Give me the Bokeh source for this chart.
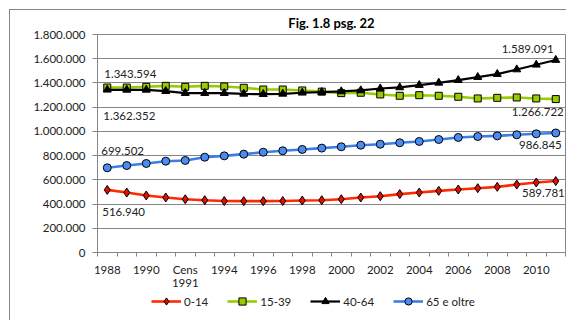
from bokeh.plotting import figure
from bokeh.layouts import column
from bokeh.models import (Range1d, FixedTicker, CustomJSTickFormatter, Legend, LegendItem,
                          Label)
from bokeh.embed import file_html
from bokeh.resources import INLINE

title_text = "Fig. 1.8 psg. 22"
categories = ["1988", "1989", "1990", "1991", "Cens 1991", "1993", "1994", "1995", "1996",
              "1997", "1998", "1999", "2000", "2001", "2002", "2003", "2004", "2005",
              "2006", "2007", "2008", "2009", "2010", "2011"]
y_ticks = [0, 200000, 400000, 600000, 800000, 1000000, 1200000, 1400000, 1600000, 1800000]

age_0_14 = [516940, 495000, 471000, 454000, 440000, 432000, 425000, 424000, 424000, 425000,
            429000, 432000, 440000, 454000, 465000, 482000, 495000, 509000, 520000, 531000,
            542000, 561000, 578000, 589781]
age_15_39 = [1362352, 1362000, 1368000, 1376000, 1368000, 1376000, 1371000, 1360000, 1346000,
             1346000, 1338000, 1328000, 1316000, 1319000, 1305000, 1294000, 1299000, 1294000,
             1286000, 1272000, 1277000, 1280000, 1272000, 1266722]
age_40_64 = [1343594, 1343000, 1343000, 1332000, 1316000, 1316000, 1316000, 1310000, 1307000,
             1310000, 1319000, 1324000, 1330000, 1338000, 1354000, 1363000, 1382000, 1401000,
             1423000, 1448000, 1473000, 1511000, 1550000, 1589091]
age_65 = [699502, 718000, 735000, 754000, 760000, 787000, 798000, 812000, 828000, 840000,
          851000, 862000, 873000, 886000, 894000, 906000, 917000, 933000, 950000, 958000,
          963000, 972000, 980000, 986845]
series_names = ["0-14", "15-39", "40-64", "65 e oltre"]

FONT = "Lato"
GRID = "#868686"
TXT = "#222222"

xs = list(range(len(categories)))

box_bg = ("linear-gradient(#868686,#868686) 9px 9px / 1px 100% no-repeat, "
          "linear-gradient(#868686,#868686) 9px 9px / 100% 1px no-repeat, white")
box_bg_lower = "linear-gradient(#868686,#868686) 9px 0 / 1px 100% no-repeat, white"

p = figure(frame_width=468, frame_height=218, output_backend="svg", toolbar_location=None,
           x_range=Range1d(-0.5, len(categories) - 0.5), y_range=Range1d(0, 1800000),
           min_border_left=97, min_border_right=1, min_border_top=34, min_border_bottom=38,
           styles={"background": box_bg})
p.outline_line_color = GRID
p.background_fill_color = "white"
p.border_fill_alpha = 0

p.title.text = title_text
p.title.align = "center"
p.title.offset = -61
p.title.standoff = 7
p.title.text_font = FONT
p.title.text_font_style = "bold"
p.title.text_font_size = "13px"
p.title.text_color = "black"

# y axis
p.yaxis.ticker = FixedTicker(ticks=y_ticks)
p.yaxis.formatter = CustomJSTickFormatter(
    code='return Math.round(tick).toString().replace(/\\B(?=(\\d{3})+(?!\\d))/g, ".");')
p.yaxis.axis_line_color = GRID
p.yaxis.major_tick_line_color = GRID
p.yaxis.major_tick_out = 5
p.yaxis.major_tick_in = 0
p.yaxis.minor_tick_line_color = None
p.yaxis.major_label_standoff = 7
p.yaxis.major_label_text_font = FONT
p.yaxis.major_label_text_font_size = "11.5px"
p.yaxis.major_label_text_color = TXT
p.ygrid.grid_line_color = GRID
p.ygrid.ticker = FixedTicker(ticks=y_ticks)

# x axis: labels at every other category, ticks between categories
label_idx = list(range(0, len(categories), 2))
p.xaxis.ticker = FixedTicker(ticks=label_idx,
                             minor_ticks=[i - 0.5 for i in range(len(categories) + 1)])
p.xaxis.major_label_overrides = {i: categories[i].replace(" ", "\n") for i in label_idx}
p.xaxis.axis_line_color = GRID
p.xaxis.major_tick_line_color = None
p.xaxis.major_tick_out = 0
p.xaxis.major_tick_in = 0
p.xaxis.minor_tick_line_color = GRID
p.xaxis.minor_tick_out = 4
p.xaxis.minor_tick_in = 0
p.xaxis.major_label_standoff = 6
p.xaxis.major_label_text_font = FONT
p.xaxis.major_label_text_font_size = "11.5px"
p.xaxis.major_label_text_line_height = 1.0
p.xaxis.major_label_text_color = TXT
p.xgrid.grid_line_color = None

styles = [
    dict(data=age_0_14, color="#ff2a00", width=2.6, marker="diamond", size=9, fill="#e01000"),
    dict(data=age_15_39, color="#99cc00", width=2.6, marker="square", size=7, fill="#99cc00"),
    dict(data=age_40_64, color="#000000", width=2.2, marker="triangle", size=8, fill="#000000"),
    dict(data=age_65, color="#3c7ee6", width=2.6, marker="circle", size=8, fill="#4a8cf0"),
]

for name, s in zip(series_names, styles):
    p.line(xs, s["data"], line_color=s["color"], line_width=s["width"])
    p.scatter(xs, s["data"], marker=s["marker"], size=s["size"],
              fill_color=s["fill"], line_color="black", line_width=1)

# data labels at first and last points
def fmt(v):
    return f"{v:,}".replace(",", ".")

label_specs = [
    (age_40_64, 0, "left", -3, 16),
    (age_15_39, 0, "left", -4, -28),
    (age_65, 0, "left", -6, 17),
    (age_0_14, 0, "left", -5, -22),
    (age_40_64, -1, "right", -2, 11),
    (age_15_39, -1, "right", 8, -13),
    (age_65, -1, "right", 6, -12),
    (age_0_14, -1, "right", 9, -12),
]
for data, i, align, dx, dy in label_specs:
    idx = xs[i]
    p.add_layout(Label(x=idx, y=data[i], text=fmt(data[i]), x_offset=dx, y_offset=dy,
                       text_align=align, text_baseline="middle", text_font=FONT,
                       text_font_size="11.5px", text_color=TXT))

# legend strip below the chart (its own small canvas so the legend is not clipped);
# the series are drawn there too, but fall outside its ranges, so only the legend shows
lg = figure(width=566, height=30, output_backend="svg", toolbar_location=None,
            x_range=Range1d(-3, -2), y_range=Range1d(-3, -2),
            x_axis_location=None, y_axis_location=None,
            min_border_left=0, min_border_right=0, min_border_top=0, min_border_bottom=0,
            styles={"background": box_bg_lower})
lg.outline_line_color = None
lg.background_fill_alpha = 0
lg.border_fill_alpha = 0
lg.xgrid.grid_line_color = None
lg.ygrid.grid_line_color = None

items = []
for name, s in zip(series_names, styles):
    lr = lg.line(xs, s["data"], line_color=s["color"], line_width=s["width"])
    sr = lg.scatter(xs, s["data"], marker=s["marker"], size=s["size"],
                    fill_color=s["fill"], line_color="black", line_width=1)
    items.append(LegendItem(label=name, renderers=[lr, sr]))

legend = Legend(items=items, orientation="horizontal", location=(54, 11),
                glyph_width=30, glyph_height=18, label_height=18, label_standoff=3,
                spacing=19, padding=0, margin=0, border_line_color=None,
                background_fill_alpha=0, label_text_font=FONT,
                label_text_font_size="11.5px", label_text_color=TXT)
lg.add_layout(legend, "center")

layout = column(p, lg, spacing=0)
open("out.html", "w").write(file_html(layout, INLINE))
